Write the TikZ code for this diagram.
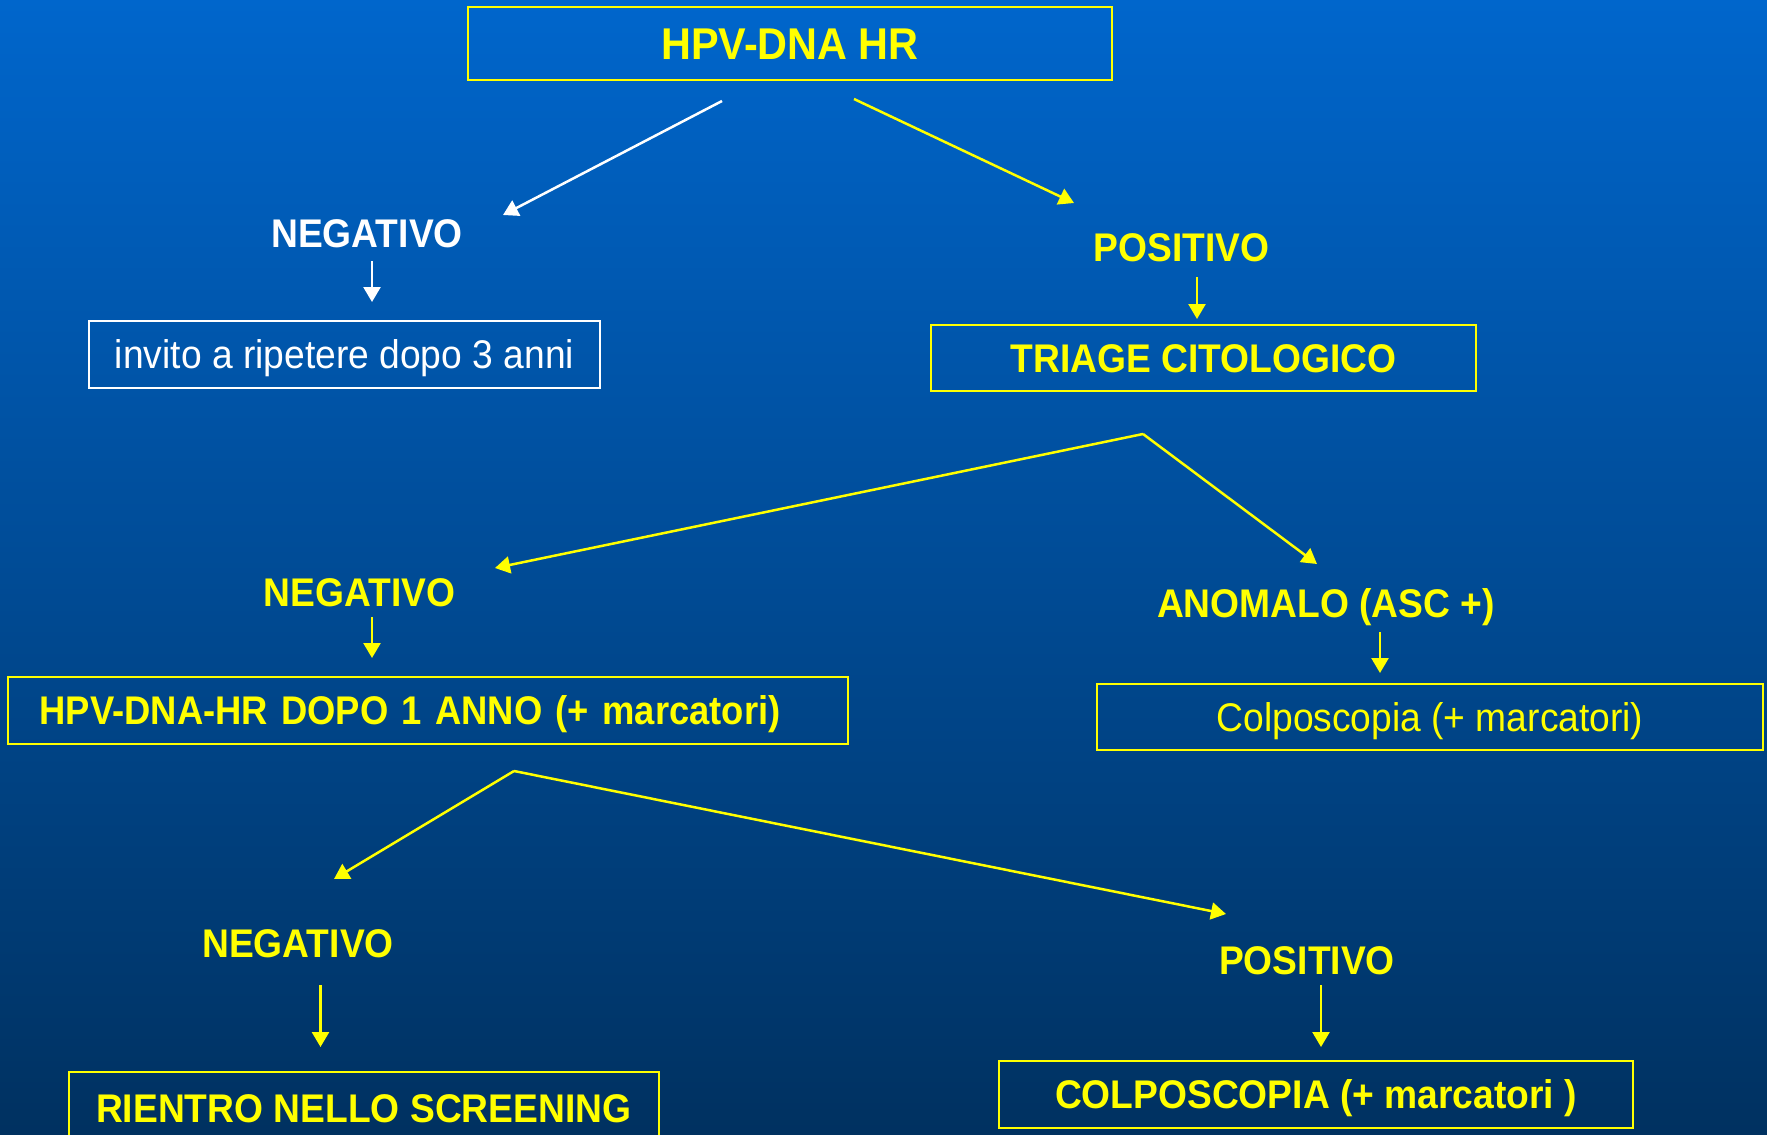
\documentclass[tikz,border=0pt]{standalone}
\usepackage{fontspec}
\setmainfont{Liberation Sans}[FakeStretch=0.93]
\newfontfamily\tightsp{Liberation Sans}[FakeStretch=0.91]
\usetikzlibrary{arrows.meta}
\definecolor{bgtop}{RGB}{0,102,204}
\definecolor{bgbot}{RGB}{0,49,96}
\definecolor{ylw}{RGB}{255,255,0}
\begin{document}
\begin{tikzpicture}[x=0.5pt,y=-0.5pt,
  fbig/.style={font=\fontsize{22.25}{26}\selectfont\bfseries},
  fb/.style={font=\fontsize{20}{24}\selectfont\bfseries},
  fr/.style={font=\fontsize{20}{24}\selectfont},
  boxy/.style={draw=ylw, line width=1pt, text=ylw, inner xsep=0pt, inner ysep=0pt,
               text height=14.3pt, text depth=0pt, fb},
  lbl/.style={text=ylw, inner sep=0pt, text height=14.3pt, text depth=0pt, fb},
  arr/.style={draw=ylw, line width=1.25pt, -{Triangle[length=7.5pt,width=8.5pt]}},
  warr/.style={arr, draw=white, fill=white},
]
\clip (0,0) rectangle (1767,1135);
\shade[top color=bgtop, bottom color=bgbot] (0,0) rectangle (1767,1135);

% boxes
\node[boxy, fbig, text height=15.9pt, minimum width=322pt, minimum height=36.5pt] (top) at (790,43.5) {HPV-DNA HR};
\node[boxy, fr, draw=white, text=white, minimum width=255.5pt, minimum height=33.5pt] (invito) at (344.5,354.5) {invito a ripetere dopo 3 anni};
\node[boxy, minimum width=272.5pt, minimum height=33pt] (triage) at (1203.5,358) {TRIAGE CITOLOGICO};
\node[boxy, font=\tightsp\fontsize{20}{24}\selectfont\bfseries, minimum height=33.5pt, text width=388.25pt, inner xsep=15.75pt, align=left] (hpv1) at (427.75,710.5) {HPV-DNA-HR DOPO 1 ANNO (+ marcatori)};
\node[boxy, fr, minimum width=332.75pt, minimum height=33pt] (colpo1) at (1430,717) {Colposcopia (+ marcatori)};
\node[boxy, minimum width=294.75pt, minimum height=36.5pt] (rientro) at (363.75,1108.5) {RIENTRO NELLO SCREENING};
\node[boxy, minimum width=317pt, minimum height=33.5pt] (colpo2) at (1316,1094.5) {COLPOSCOPIA (+ marcatori )};

% labels
\node[lbl, text=white] (neg1) at (367,233) {NEGATIVO};
\node[lbl] (pos1) at (1181.5,247) {POSITIVO};
\node[lbl] (neg2) at (359.5,592.5) {NEGATIVO};
\node[lbl] (anom) at (1326,603.5) {ANOMALO (ASC +)};
\node[lbl] (neg3) at (298,943.5) {NEGATIVO};
\node[lbl] (pos3) at (1307,960) {POSITIVO};

% connector end points
\coordinate (s1) at (722,101);   \coordinate (e1) at (503,215);
\coordinate (s2) at (854,99);    \coordinate (e2) at (1074,203);
\coordinate (s3) at (372,261);   \coordinate (e3) at (372,302);
\coordinate (s4) at (1197,277);  \coordinate (e4) at (1197,319);
\coordinate (s5) at (1143,434);  \coordinate (e5) at (495,568);
\coordinate (e6) at (1317,564);
\coordinate (s7) at (372,617);   \coordinate (e7) at (372,658);
\coordinate (s8) at (1380,632);  \coordinate (e8) at (1380,673);
\coordinate (s9) at (514,771);   \coordinate (e9) at (334,879);
\coordinate (e10) at (1226,914);
\coordinate (s11) at (320.5,985); \coordinate (e11) at (320.5,1047);
\coordinate (s12) at (1321,985);  \coordinate (e12) at (1321,1047);

% connectors
\draw[warr] (s1) -- (e1);
\draw[arr] (s2) -- (e2);
\draw[warr] (s3) -- (e3);
\draw[arr] (s4) -- (e4);
\draw[arr] (s5) -- (e5);
\draw[arr] (s5) -- (e6);
\draw[arr] (s7) -- (e7);
\draw[arr] (s8) -- (e8);
\draw[arr] (s9) -- (e9);
\draw[arr] (s9) -- (e10);
\draw[arr] (s11) -- (e11);
\draw[arr] (s12) -- (e12);
\end{tikzpicture}
\end{document}
